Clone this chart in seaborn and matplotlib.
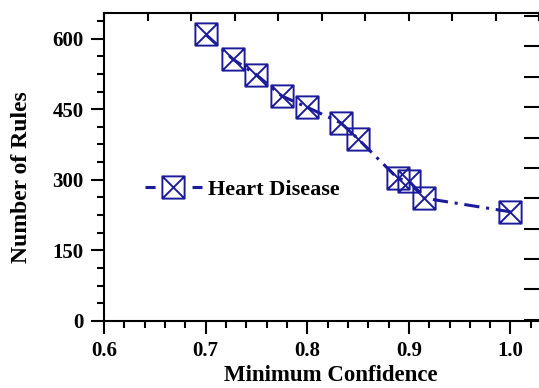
import numpy as np
import pandas as pd
import matplotlib
matplotlib.use('Agg')
import matplotlib.pyplot as plt
import seaborn as sns
from matplotlib.path import Path
from matplotlib.ticker import MultipleLocator

# data
min_conf = [0.70, 0.727, 0.75, 0.775, 0.80, 0.833, 0.85, 0.889, 0.90, 0.915, 1.00]
num_rules = [609, 556, 523, 478, 454, 421, 387, 303, 298, 261, 232]
series_name = 'Heart Disease'

df = pd.DataFrame({'conf': min_conf, 'rules': num_rules})

sns.set_style('ticks')
plt.rcParams['font.family'] = ['Liberation Serif', 'DejaVu Serif']
plt.rcParams['font.weight'] = 'bold'
plt.rcParams['axes.labelweight'] = 'bold'
plt.rcParams['text.color'] = 'black'
plt.rcParams['axes.labelcolor'] = 'black'
plt.rcParams['xtick.color'] = 'black'
plt.rcParams['ytick.color'] = 'black'
plt.rcParams['axes.edgecolor'] = 'black'

color = '#1c1c9a'

# square with a cross inside
verts = [(-1, -1), (1, -1), (1, 1), (-1, 1), (-1, -1),
         (-1, -1), (1, 1), (-1, 1), (1, -1)]
codes = [Path.MOVETO, Path.LINETO, Path.LINETO, Path.LINETO, Path.CLOSEPOLY,
         Path.MOVETO, Path.LINETO, Path.MOVETO, Path.LINETO]
box_x = Path(verts, codes)

fig = plt.figure(figsize=(5.39, 3.88), dpi=100)
W, H = 539, 388
ax = fig.add_axes([104 / W, (H - 321) / H, (541 - 104) / W, (321 - 12.7) / H])

sns.lineplot(data=df, x='conf', y='rules', ax=ax, color=color, lw=2.2,
             marker=box_x, markersize=16, markerfacecolor='none',
             markeredgecolor=color, markeredgewidth=1.4,
             dashes=False, label=series_name)
ax.lines[0].set_dashes((5, 2.2, 1, 2.2))

ax.set_xlim(0.6, 1.0 + (541 - 510.5) / 1016)
ax.set_ylim(0, 655)
ax.xaxis.set_minor_locator(MultipleLocator(0.02))
ax.yaxis.set_major_locator(MultipleLocator(150))
ax.yaxis.set_minor_locator(MultipleLocator(37.5))
ax.set_xticks([0.6, 0.7, 0.8, 0.9, 1.0])
ax.set_xticklabels(['0.6', '0.7', '0.8', '0.9', '1.0'])
ax.tick_params(which='major', direction='out', length=9.5, width=1.5, labelsize=15, pad=5)
ax.tick_params(which='minor', direction='out', length=5, width=1.5)
for s in ax.spines.values():
    s.set_linewidth(1.5)
ax.spines['right'].set_visible(False)
ax.set_xlabel('Minimum Confidence', fontsize=16.5)
ax.set_ylabel('Number of Rules', fontsize=17)
ax.xaxis.set_label_coords(0.52, -0.143)
ax.yaxis.set_label_coords(-0.165, 0.467)

# stray ticks of the neighbouring axes (top and right)
top = ax.twiny()
top.set_xlim(-1.011, (541 - 148) / 43.5)
top.xaxis.set_major_locator(MultipleLocator(1))
top.tick_params(axis='x', direction='in', length=6, width=1.5, labeltop=False)
right = ax.twinx()
right.set_ylim(-0.04, 10.11)
right.yaxis.set_major_locator(MultipleLocator(1))
right.tick_params(axis='y', direction='in', length=12, width=1.5, labelright=False)
for a in (top, right):
    for s in a.spines.values():
        s.set_visible(False)

leg = ax.legend(loc='center left', bbox_to_anchor=(0.047, 0.425), frameon=False,
                fontsize=16, handlelength=2.57, handletextpad=0.27)
for h in leg.get_lines():
    h.set_dashes((3.3, 12.1))

fig.savefig('out.png', dpi=100)
